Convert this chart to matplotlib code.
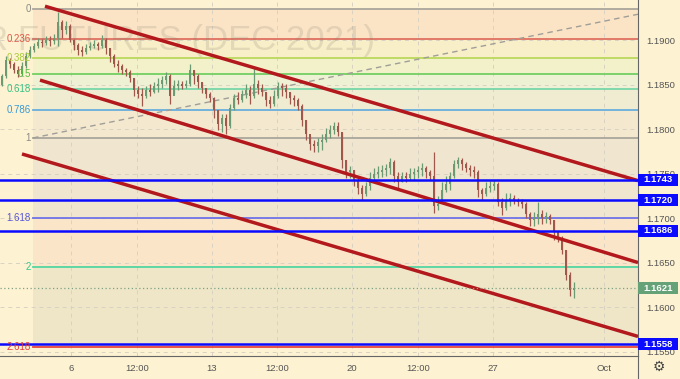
import matplotlib
matplotlib.use("Agg")
import matplotlib.pyplot as plt
from matplotlib.patches import Rectangle

# bars, oldest first
first_open = 1.1849
closes = [1.1860, 1.1878, 1.1873, 1.1866, 1.1862, 1.1871, 1.1882, 1.1889, 1.1893, 1.1898,
          1.1897, 1.1900, 1.1899, 1.1902, 1.1920, 1.1911, 1.1916, 1.1900, 1.1894, 1.1889,
          1.1887, 1.1891, 1.1893, 1.1896, 1.1893, 1.1900, 1.1891, 1.1882, 1.1873, 1.1871,
          1.1866, 1.1864, 1.1857, 1.1844, 1.1839, 1.1837, 1.1844, 1.1842, 1.1848, 1.1851,
          1.1855, 1.1860, 1.1837, 1.1848, 1.1851, 1.1848, 1.1851, 1.1866, 1.1860, 1.1853,
          1.1846, 1.1839, 1.1835, 1.1821, 1.1806, 1.1812, 1.1803, 1.1824, 1.1835, 1.1833,
          1.1839, 1.1844, 1.1837, 1.1851, 1.1846, 1.1842, 1.1833, 1.1828, 1.1837, 1.1848,
          1.1846, 1.1842, 1.1835, 1.1833, 1.1826, 1.1810, 1.1794, 1.1783, 1.1781, 1.1785,
          1.1788, 1.1794, 1.1799, 1.1803, 1.1797, 1.1765, 1.1752, 1.1754, 1.1743, 1.1734,
          1.1727, 1.1736, 1.1745, 1.1749, 1.1752, 1.1754, 1.1756, 1.1763, 1.1747, 1.1740,
          1.1747, 1.1745, 1.1749, 1.1752, 1.1754, 1.1756, 1.1752, 1.1747, 1.1713, 1.1716,
          1.1731, 1.1738, 1.1747, 1.1761, 1.1765, 1.1761, 1.1756, 1.1754, 1.1752, 1.1731,
          1.1727, 1.1734, 1.1736, 1.1738, 1.1718, 1.1711, 1.1720, 1.1722, 1.1720, 1.1718,
          1.1716, 1.1704, 1.1698, 1.1700, 1.1704, 1.1700, 1.1702, 1.1698, 1.1684, 1.1677,
          1.1664, 1.1636, 1.1619, 1.1621]
highs = [1.1862, 1.1882, 1.1880, 1.1875, 1.1871, 1.1875, 1.1887, 1.1893, 1.1897, 1.1902,
         1.1901, 1.1905, 1.1905, 1.1907, 1.1931, 1.1922, 1.1921, 1.1918, 1.1901, 1.1897,
         1.1893, 1.1896, 1.1898, 1.1900, 1.1898, 1.1906, 1.1902, 1.1891, 1.1884, 1.1878,
         1.1873, 1.1869, 1.1866, 1.1857, 1.1848, 1.1846, 1.1848, 1.1851, 1.1853, 1.1857,
         1.1860, 1.1864, 1.1862, 1.1855, 1.1855, 1.1854, 1.1855, 1.1873, 1.1866, 1.1862,
         1.1853, 1.1846, 1.1842, 1.1836, 1.1821, 1.1817, 1.1817, 1.1828, 1.1839, 1.1842,
         1.1844, 1.1851, 1.1848, 1.1869, 1.1855, 1.1851, 1.1842, 1.1837, 1.1844, 1.1853,
         1.1852, 1.1851, 1.1842, 1.1838, 1.1835, 1.1828, 1.1810, 1.1792, 1.1788, 1.1790,
         1.1794, 1.1801, 1.1805, 1.1808, 1.1808, 1.1797, 1.1765, 1.1758, 1.1754, 1.1745,
         1.1737, 1.1740, 1.1752, 1.1756, 1.1758, 1.1760, 1.1761, 1.1767, 1.1765, 1.1752,
         1.1752, 1.1752, 1.1756, 1.1756, 1.1758, 1.1762, 1.1758, 1.1754, 1.1774, 1.1725,
         1.1740, 1.1747, 1.1752, 1.1765, 1.1769, 1.1767, 1.1763, 1.1760, 1.1758, 1.1754,
         1.1734, 1.1740, 1.1742, 1.1743, 1.1740, 1.1722, 1.1728, 1.1728, 1.1726, 1.1722,
         1.1721, 1.1718, 1.1707, 1.1707, 1.1718, 1.1709, 1.1707, 1.1704, 1.1698, 1.1684,
         1.1680, 1.1664, 1.1639, 1.1628]
lows = [1.1848, 1.1857, 1.1869, 1.1863, 1.1858, 1.1860, 1.1869, 1.1880, 1.1887, 1.1891,
        1.1892, 1.1894, 1.1893, 1.1896, 1.1893, 1.1902, 1.1907, 1.1898, 1.1889, 1.1883,
        1.1882, 1.1884, 1.1889, 1.1891, 1.1889, 1.1891, 1.1884, 1.1875, 1.1870, 1.1864,
        1.1862, 1.1860, 1.1853, 1.1837, 1.1835, 1.1826, 1.1835, 1.1837, 1.1840, 1.1842,
        1.1846, 1.1851, 1.1828, 1.1839, 1.1844, 1.1845, 1.1846, 1.1848, 1.1851, 1.1846,
        1.1840, 1.1835, 1.1830, 1.1812, 1.1799, 1.1797, 1.1794, 1.1801, 1.1821, 1.1828,
        1.1830, 1.1835, 1.1828, 1.1835, 1.1839, 1.1837, 1.1826, 1.1824, 1.1826, 1.1835,
        1.1837, 1.1835, 1.1828, 1.1826, 1.1821, 1.1803, 1.1788, 1.1776, 1.1774, 1.1774,
        1.1776, 1.1785, 1.1790, 1.1794, 1.1792, 1.1756, 1.1745, 1.1745, 1.1736, 1.1727,
        1.1720, 1.1725, 1.1731, 1.1740, 1.1745, 1.1746, 1.1747, 1.1749, 1.1740, 1.1734,
        1.1740, 1.1740, 1.1743, 1.1743, 1.1745, 1.1747, 1.1745, 1.1743, 1.1706, 1.1709,
        1.1720, 1.1729, 1.1731, 1.1745, 1.1756, 1.1754, 1.1752, 1.1747, 1.1745, 1.1724,
        1.1720, 1.1725, 1.1729, 1.1731, 1.1713, 1.1703, 1.1709, 1.1713, 1.1716, 1.1713,
        1.1711, 1.1700, 1.1691, 1.1691, 1.1693, 1.1693, 1.1695, 1.1693, 1.1675, 1.1673,
        1.1660, 1.1630, 1.1612, 1.1610]

tick_bars = [17.25, 33.75, 52.5, 68.75, 87.5, 104, 122.75, 150.5]
tick_labels = ["6", "12:00", "13", "12:00", "20", "12:00", "27", "Oct"]

# fibonacci retracement
fib_start = 7.75
fib_top = 1.19349
fib_bottom = 1.17899
fib_ratios = [0, 0.236, 0.382, 0.5, 0.618, 0.786, 1, 1.618, 2, 2.618]
fib_names = ["0", "0.236", "0.382", "0.5", "0.618", "0.786", "1", "1.618", "2", "2.618"]
fib_line_colors = ["#aaa69c", "#e07060", "#bad85c", "#72cf62", "#78d6a8", "#68aedc",
                   "#aaa69c", "#6e72e8", "#52d6a2", "#e8463e"]
fib_text_colors = ["#8a8a86", "#e05848", "#a9cc38", "#52be3e", "#38c082", "#3a98d4",
                   "#8a8a86", "#5656d6", "#2ecb8e", "#e63a3a"]
fib_fills = ["#fbe4c5", "#f8efc8", "#f2f1ca", "#eef1d4", "#f0ecd2",
             "#f4e9cf", "#f0e6d0", "#fbe5c8", "#eee6c7"]

# drawn levels and channel
levels = [1.1743, 1.1720, 1.1686, 1.1558]
last_price = 1.1621
channels = [((10.75, 1.1938), (159, 1.1742)),
            ((9.5, 1.1855), (159, 1.1650)),
            ((5, 1.1772), (159, 1.1567))]
trend = ((7.75, 1.1790), (159, 1.1929))

bg = "#fdf2d1"
fig = plt.figure(figsize=(6.8, 3.79), dpi=100, facecolor=bg)
ax = fig.add_axes([0, 23 / 379, 638 / 680, 356 / 379])
ax.set_facecolor(bg)
xmin, xmax = -0.5, 159
ymin, ymax = 1.1545, 1.1945
ax.set_xlim(xmin, xmax)
ax.set_ylim(ymin, ymax)

fib_prices = [fib_top - r * (fib_top - fib_bottom) for r in fib_ratios]
for k in range(len(fib_prices) - 1):
    ax.fill_between([fib_start, xmax], fib_prices[k + 1], fib_prices[k],
                    color=fib_fills[k], lw=0, zorder=0)
for p, name, lc, tc in zip(fib_prices, fib_names, fib_line_colors, fib_text_colors):
    ax.plot([fib_start, xmax], [p, p], color=lc, lw=1.3, zorder=1)
    ax.text(fib_start - 0.5, p, name, ha="right", va="center", fontsize=7,
            color=tc, family="Liberation Sans", zorder=6)

# grid
yticks = [1.1550, 1.1600, 1.1650, 1.1700, 1.1750, 1.1800, 1.1850, 1.1900]
for t in yticks:
    ax.axhline(t, color="#d9d2c2", lw=0.7, ls=(0, (4, 4)), zorder=0.5)
for t in tick_bars:
    ax.axvline(t, color="#d9d2c2", lw=0.7, ls=(0, (4, 4)), zorder=0.5)

ax.text(93.25, 1.1900, "EUR FUTURES (DEC 2021)", ha="right", va="center",
        fontsize=25, family="Liberation Sans", color="#8c8070", alpha=0.2, zorder=1)

ax.plot([trend[0][0], trend[1][0]], [trend[0][1], trend[1][1]], color="#a09e98",
        lw=1, ls=(0, (4, 3)), zorder=2)

# candles
opens = [first_open] + closes[:-1]
for i in range(len(closes)):
    o, c = opens[i], closes[i]
    col = "#6c9a72" if c >= o else "#a0584c"
    ax.vlines(i, lows[i], highs[i], color=col, lw=0.9, zorder=3)
    ax.bar(i, max(abs(c - o), 0.00008), bottom=min(o, c), width=0.55,
           color=col, lw=0, zorder=3)

for (x0, y0), (x1, y1) in channels:
    ax.plot([x0, x1], [y0, y1], color="#b2181c", lw=2.5, solid_capstyle="butt", zorder=4)

for lv in levels:
    ax.axhline(lv, color="#0b0bff", lw=1.8, zorder=4)
ax.axhline(last_price, color="#7fa285", lw=0.9, ls=(0, (1, 2)), zorder=4)

# right price scale
ax.yaxis.tick_right()
ax.set_yticks(yticks)
ax.set_yticklabels([f"{t:.4f}" for t in yticks], fontsize=6.8, color="#555555",
                   family="Liberation Sans")
ax.tick_params(axis="y", length=0, pad=6)
ax.set_xticks(tick_bars)
ax.set_xticklabels(tick_labels, fontsize=6.8, color="#555555", family="Liberation Sans")
ax.tick_params(axis="x", length=0, pad=6)
for s in ["top", "left"]:
    ax.spines[s].set_visible(False)
ax.spines["right"].set_color("#666666")
ax.spines["bottom"].set_color("#666666")

tr = ax.get_yaxis_transform()
box_h = 0.00135
for lv, fc in zip(levels + [last_price], ["#0b0bff"] * 4 + ["#66a277"]):
    ax.add_patch(Rectangle((1.0, lv - box_h / 2), 0.062, box_h, transform=tr,
                           facecolor=fc, edgecolor="none", clip_on=False, zorder=7))
    ax.text(1.031, lv, f"{lv:.4f}", transform=tr, ha="center", va="center",
            fontsize=6.8, fontweight="bold", color="white", family="Liberation Sans",
            clip_on=False, zorder=8)

# right axis line down to the bottom
fig.add_artist(plt.Line2D([638 / 680, 638 / 680], [0, 23 / 379], color="#666666", lw=0.8))
fig.text(659 / 680, 1 - 367 / 379, "\u2699", ha="center", va="center", fontsize=10,
         color="#444444")

fig.savefig("out.png", dpi=100, facecolor=bg)
